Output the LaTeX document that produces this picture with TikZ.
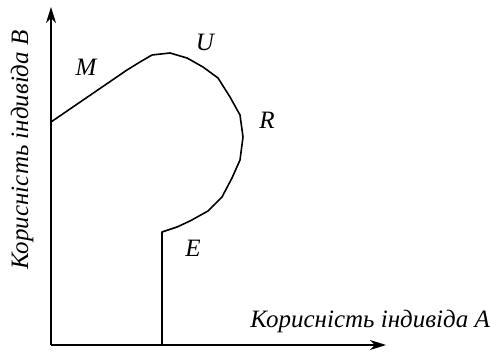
\documentclass[tikz,border=0pt]{standalone}
\usepackage{fontspec}
\setmainfont{Liberation Serif}
\usetikzlibrary{arrows.meta}
\begin{document}
\begin{tikzpicture}[x=1pt,y=-1pt,
  curve/.style={line width=1.6pt,line join=round},
  axis/.style={line width=1.6pt,-{Stealth[length=16pt,width=10pt,inset=5pt]}},
  lbl/.style={font=\fontsize{25}{28}\selectfont\itshape,inner sep=0pt}]
\useasboundingbox (0,0) rectangle (492,352);
\coordinate (O) at (51,345);
\coordinate (Ytop) at (51,7);
\coordinate (Xend) at (386,345);
\draw[axis] (O) -- (Ytop);
\draw[axis] (O) -- (Xend);
\draw[curve] (51,122) -- (127,70) -- (140,62) -- (152,55) -- (170,53) -- (187,58) -- (203,67) -- (218,78) -- (230,97) -- (240,115) -- (243,137) -- (240,160) -- (232,178) -- (222,197) -- (208,211) -- (190,221) -- (177,227) -- (162,232) -- (162,345);
\node[lbl] (M) at (86,67) {M};
\node[lbl] (U) at (205,42) {U};
\node[lbl] (R) at (267,120) {R};
\node[lbl] (E) at (193,248) {E};
\node[lbl,anchor=east] (XL) at (490,321) {Корисність індивіда A};
\node[lbl,rotate=90] (YL) at (22,150) {Корисність індивіда B};
\end{tikzpicture}
\end{document}
